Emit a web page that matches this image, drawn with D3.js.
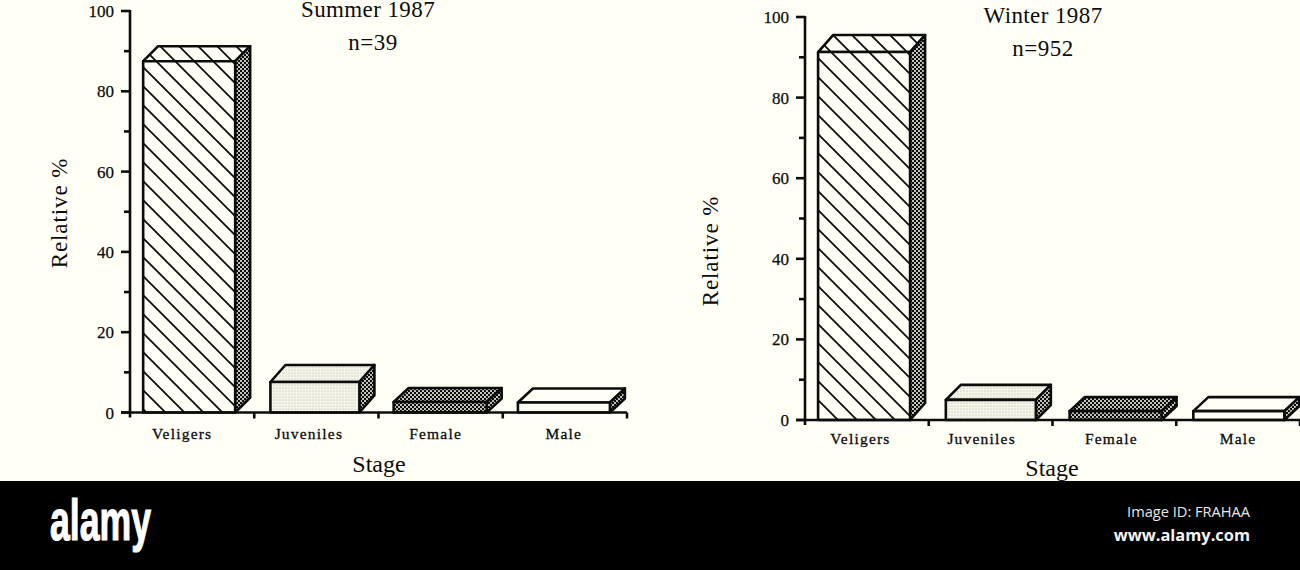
<!DOCTYPE html>
<html><head><meta charset="utf-8">
<script src="https://cdn.jsdelivr.net/npm/d3@7"></script>
<style>html,body{margin:0;padding:0;background:#000}svg{display:block}</style>
</head><body><svg id="c" width="1300" height="570"></svg>
<script>
const categories=["Veligers","Juveniles","Female","Male"];
const summerValues=[87.5,7.6,2.6,2.5];
const winterValues=[91.3,5.0,2.2,2.2];
const yTicks=[0,20,40,60,80,100];
const minorTicks=[10,30,50,70,90];
const patterns=["hatch","light","dark","plain"];

const svg=d3.select("#c");
const defs=svg.append("defs");
const ink="#0c0c0c", paper="#fffff6", serif="'Liberation Serif',serif";

const hatch=defs.append("pattern").attr("id","hatch").attr("patternUnits","userSpaceOnUse")
 .attr("width",19).attr("height",19);
hatch.append("rect").attr("width",19).attr("height",19).attr("fill",paper);
hatch.append("path").attr("d","M-5,-5L24,24M-5,14L5,24M14,-5L24,5").attr("stroke",ink).attr("stroke-width",1.8);

const light=defs.append("pattern").attr("id","light").attr("patternUnits","userSpaceOnUse").attr("width",3).attr("height",3);
light.append("rect").attr("width",3).attr("height",3).attr("fill","#f6f5e9");
light.append("circle").attr("cx",1).attr("cy",1).attr("r",.6).attr("fill","#b5b4aa");

const dark=defs.append("pattern").attr("id","dark").attr("patternUnits","userSpaceOnUse").attr("width",4).attr("height",4);
dark.append("rect").attr("width",4).attr("height",4).attr("fill",ink);
dark.append("circle").attr("cx",1).attr("cy",1).attr("r",1).attr("fill",paper);
dark.append("circle").attr("cx",3).attr("cy",3).attr("r",1).attr("fill",paper);

function panel(o){
 const x=d3.scaleBand().domain(categories).range([o.x0,o.x1]).paddingInner(.26).paddingOuter(.13);
 const y=d3.scaleLinear().domain([0,100]).range([o.y0,o.y1]);
 const g=svg.append("g");
 const faces={hatch:"url(#hatch)",light:"url(#light)",dark:"url(#dark)",plain:paper};
 o.values.forEach((v,i)=>{
  const c=categories[i], w=o.widths[i], l=x(c)+o.shift[i], r=l+w, t=y(v), b=y(0), dx=15, dy=o.depth[i];
  const f=faces[patterns[i]];
  const bars=g.append("g").attr("stroke",ink).attr("stroke-width",2.6).attr("stroke-linejoin","round");
  bars.append("path").attr("d",`M${l},${t}L${l+dx},${t-dy}H${r+dx}L${r},${t}Z`).attr("fill",f);
  bars.append("path").attr("d",`M${r},${t}L${r+dx},${t-dy}V${b-dy}L${r},${b}Z`).attr("fill","url(#dark)");
  bars.append("rect").attr("x",l).attr("y",t).attr("width",w).attr("height",b-t).attr("fill",f);
 });
 const ax=g.append("g").attr("stroke",ink).attr("stroke-width",2.6);
 ax.append("line").attr("x1",o.x0).attr("x2",o.x0).attr("y1",y(100)-1).attr("y2",y(0)+5);
 ax.append("line").attr("x1",o.x0-9).attr("x2",o.x1).attr("y1",y(0)).attr("y2",y(0));
 ax.selectAll(".maj").data(yTicks).join("line").attr("x1",o.x0-9).attr("x2",o.x0).attr("y1",d=>y(d)).attr("y2",d=>y(d));
 ax.selectAll(".min").data(minorTicks).join("line").attr("x1",o.x0-6).attr("x2",o.x0).attr("y1",d=>y(d)).attr("y2",d=>y(d));
 ax.selectAll(".xt").data(categories).join("line").attr("x1",d=>x(d)+x.bandwidth()+x.step()*.13).attr("x2",d=>x(d)+x.bandwidth()+x.step()*.13).attr("y1",y(0)).attr("y2",y(0)+6);
 const texts=g.append("g").attr("font-family",serif).attr("fill",ink);
 texts.selectAll(".yl").data(yTicks).join("text").attr("x",o.x0-16).attr("y",d=>y(d)+6)
  .attr("text-anchor","end").attr("font-size",17).attr("stroke",ink).attr("stroke-width",.25).text(d=>d);
 texts.selectAll(".xl").data(categories).join("text").attr("x",(d,i)=>x(d)+x.bandwidth()/2+o.lx[i]).attr("y",y(0)+o.ly)
  .attr("text-anchor","middle").attr("font-size",15.5).attr("letter-spacing",1.2).attr("stroke",ink).attr("stroke-width",.3).text(d=>d);
 texts.append("text").attr("x",o.sx).attr("y",o.sy).attr("text-anchor","middle").attr("font-size",24).text("Stage");
 texts.append("text").attr("transform",`translate(${o.rx},${o.ry}) rotate(-90)`).attr("text-anchor","middle").attr("font-size",23).attr("letter-spacing",.9).text("Relative %");
 texts.append("text").attr("x",o.tx).attr("y",o.ty).attr("text-anchor","middle").attr("font-size",23).attr("letter-spacing",.4).text(o.title);
 texts.append("text").attr("x",o.nx).attr("y",o.ty+33).attr("text-anchor","middle").attr("font-size",23).attr("letter-spacing",.5).text(o.n);
}

svg.append("rect").attr("width",1300).attr("height",481).attr("fill",paper);
svg.append("rect").attr("y",481).attr("width",1300).attr("height",89).attr("fill","#000");

panel({x0:130,x1:627,y0:412.5,y1:11,values:summerValues,shift:[-3,0,-1,-1],widths:[92,89,93,92],depth:[15,17,14,14],lx:[-10,-7.5,-5,-1],ly:26,sx:379,sy:472,rx:67,ry:213,tx:368,nx:373,ty:17,title:"Summer 1987",n:"n=39"});
panel({x0:805,x1:1300,y0:420,y1:17,values:winterValues,shift:[-3,1,1,1],widths:[92,90,92,91],depth:[17,15,14,14],lx:[-6.5,-9,-3,0],ly:24,sx:1052,sy:476,rx:718,ry:251,tx:1043,nx:1043,ty:23,title:"Winter 1987",n:"n=952"});

svg.append("text").attr("x",50).attr("y",540).attr("font-family","'Liberation Sans',sans-serif").attr("font-weight",700).attr("font-size",58)
 .attr("textLength",101).attr("lengthAdjust","spacingAndGlyphs").attr("fill","#fff").attr("stroke","#fff").attr("stroke-width",1.2).text("alamy");
svg.append("text").attr("x",1250).attr("y",517).attr("text-anchor","end").attr("font-family","'Open Sans',sans-serif").attr("font-size",14.6).attr("fill","#e8e8e8").text("Image ID: FRAHAA");
svg.append("text").attr("x",1250).attr("y",541).attr("text-anchor","end").attr("font-family","'Open Sans',sans-serif").attr("font-weight",700).attr("font-size",16.4).attr("fill","#f4f4f4").text("www.alamy.com");
</script></body></html>
